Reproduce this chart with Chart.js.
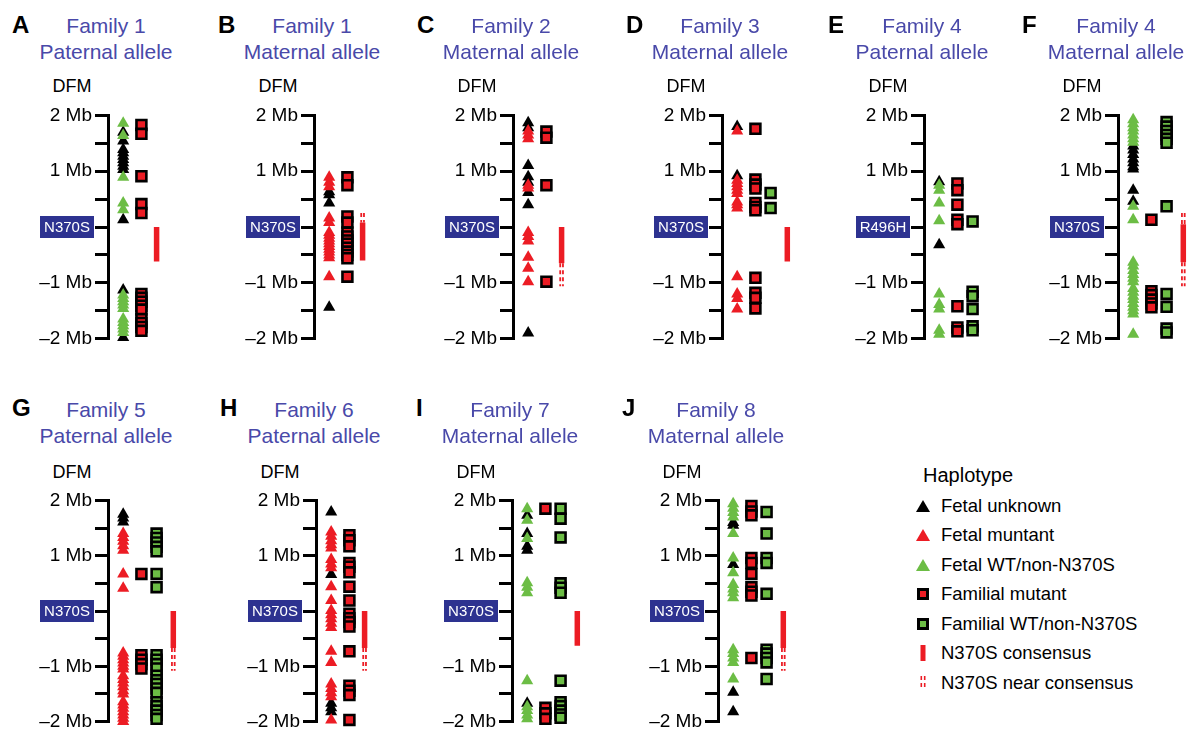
<!DOCTYPE html>
<html lang="en">
<head>
<meta charset="UTF-8">
<title>N370S haplotypes by family</title>
<script src="https://cdn.jsdelivr.net/npm/chart.js"></script>
<style>
    body {
        margin: 0;
        width: 1190px;
        height: 734px;
        overflow: hidden;
        position: relative;
        background: #fff;
        font-family: "Liberation Sans", Arial, Helvetica, sans-serif;
    }
    .letter {
        position: absolute;
        font-weight: bold;
        font-size: 24px;
        line-height: 26px;
        color: #000;
    }
    .title {
        position: absolute;
        width: 220px;
        text-align: center;
        color: #4949a9;
        font-size: 21px;
        line-height: 26px;
    }
    .dfm {
        position: absolute;
        width: 80px;
        text-align: center;
        font-size: 18px;
        line-height: 24px;
    }
    .plot { position: absolute; }
    #legend {
        position: absolute;
        left: 913px;
        top: 463px;
        font-size: 18.5px;
        color: #000;
    }
    #legend .head { font-size: 20px; line-height: 24px; margin-left: 10px; margin-bottom: 4px; }
    #legend .row { height: 29.5px; display: flex; align-items: center; }
    #legend svg { width: 20px; height: 20px; margin-right: 8px; }
</style>
</head>
<body>
<div id="legend"></div>
<script>
    // panel texts
    const panelLetters = ['A', 'B', 'C', 'D', 'E', 'F', 'G', 'H', 'I', 'J'];
    const familyNames = ['Family 1', 'Family 1', 'Family 2', 'Family 3', 'Family 4', 'Family 4', 'Family 5', 'Family 6', 'Family 7', 'Family 8'];
    const alleleNames = ['Paternal allele', 'Maternal allele', 'Maternal allele', 'Maternal allele', 'Paternal allele',
        'Maternal allele', 'Paternal allele', 'Paternal allele', 'Maternal allele', 'Maternal allele'];
    const variantNames = ['N370S', 'N370S', 'N370S', 'N370S', 'R496H', 'N370S', 'N370S', 'N370S', 'N370S', 'N370S'];

    // y axis tick labels (Mb from mutation)
    const tickValues = [2, 1, -1, -2];
    const tickTexts = ['2 Mb', '1 Mb', '\u20131 Mb', '\u20132 Mb'];

    // marker positions in Mb, one list per panel (A..J)
    const fetalUnknown = [
        [1.7, 1.54, 1.39, 1.33, 1.27, 1.21, 1.15, 1.09, 1.03, 0.13, -1.13, -1.98],
        [0.63, 0.58, 0.43, -1.44],
        [1.87, 1.78, 1.1, 0.9, 0.8, 0.62, 0.4, -1.9],
        [1.8, 0.92],
        [0.81, -0.32],
        [1.45, 1.38, 1.3, 1.22, 1.15, 1.08, 1.04, 0.66, 0.46],
        [1.75, 1.68, 1.61],
        [1.79, 0.66, -1.67, -1.75, -1.82],
        [1.73, 1.4, 1.17, 1.1, -1.67],
        [1.6, 1.55, 0.84, -1.47, -1.82]
    ];
    const fetalMutant = [
        [],
        [0.89, 0.8, 0.72, 0.16, 0.08, -0.1, -0.15, -0.2, -0.25, -0.3, -0.35, -0.4, -0.45, -0.5, -0.55, -0.89],
        [1.72, 1.65, 1.58, 0.75, 0.7, -0.1, -0.17, -0.25, -0.54, -0.74, -0.98],
        [1.72, 0.84, 0.78, 0.72, 0.66, 0.6, 0.45, 0.4, 0.34, -0.89, -1.2, -1.28, -1.47],
        [],
        [],
        [1.4, 1.33, 1.26, 1.18, 1.1, 0.67, 0.41, -0.76, -0.82, -0.88, -0.94, -1.0, -1.05,
            -1.17, -1.24, -1.3, -1.37, -1.44, -1.5, -1.64, -1.7, -1.76, -1.82, -1.88, -1.94, -2.0],
        [1.43, 1.35, 1.27, 1.2, 1.14, 0.93, 0.85, 0.78, 0.44, 0.19, 0.01, -0.07, -0.14, -0.22, -0.3,
            -0.73, -0.93, -1.32, -1.4, -1.48, -1.55, -1.97],
        [],
        []
    ];
    const fetalWT = [
        [1.86, 1.64, 0.89, 0.43, 0.31, -1.22, -1.28, -1.34, -1.4, -1.46, -1.65, -1.71, -1.77, -1.83, -1.89],
        [],
        [],
        [],
        [0.75, 0.66, 0.43, 0.11, -1.2, -1.39, -1.47, -1.85, -1.92],
        [1.92, 1.85, 1.78, 1.72, 1.65, 1.58, 1.52, 0.37, 0.13, -0.63, -0.7, -0.78, -0.85, -0.92, -0.98,
            -1.1, -1.17, -1.24, -1.3, -1.37, -1.44, -1.5, -1.56, -1.92],
        [],
        [],
        [1.85, 1.64, 1.31, 0.51, 0.43, 0.33, -1.26, -1.73, -1.8, -1.88, -1.95],
        [1.94, 1.86, 1.78, 1.7, 1.4, 0.96, 0.69, 0.48, 0.4, 0.33, 0.24, -0.7, -0.77, -0.85, -0.93, -1.23]
    ];
    const familialMutant = [
        [1.83, 1.67, 0.91, 0.41, 0.25, -1.2, -1.27, -1.34, -1.41, -1.48, -1.65, -1.72, -1.79, -1.86],
        [0.89, 0.75, 0.19, 0.08, -0.1, -0.17, -0.24, -0.3, -0.37, -0.44, -0.5, -0.56, -0.89],
        [1.71, 1.6, 0.75, -0.98],
        [1.76, 0.85, 0.76, 0.69, 0.43, 0.36, 0.3, -0.91, -1.18, -1.27, -1.46],
        [0.78, 0.66, 0.4, 0.13, 0.05, -1.42, -1.8, -1.87],
        [0.13, -1.15, -1.22, -1.3, -1.37, -1.44],
        [0.67, -0.8, -0.88, -0.96, -1.04],
        [1.37, 1.28, 1.17, 0.87, 0.8, 0.7, 0.44, 0.19, -0.05, -0.13, -0.2, -0.28, -0.73, -1.35, -1.44, -1.52, -1.97],
        [1.85, -1.75, -1.85, -1.95],
        [1.9, 1.8, 1.73, 0.96, 0.87, 0.67, 0.43, 0.35, 0.28, -0.85]
    ];
    const familialWT = [
        [],
        [],
        [],
        [0.61, 0.34],
        [0.1, -1.16, -1.24, -1.47, -1.78, -1.85],
        [1.88, 1.8, 1.72, 1.65, 1.58, 1.51, 0.37, -1.2, -1.43, -1.82, -1.89],
        [1.4, 1.32, 1.24, 1.16, 1.08, 0.67, 0.43, -0.8, -0.88, -0.96, -1.04, -1.17, -1.25, -1.32, -1.4, -1.48,
            -1.65, -1.72, -1.8, -1.88, -1.95],
        [],
        [1.85, 1.67, 1.33, 0.5, 0.42, 0.33, -1.26, -1.65, -1.72, -1.8, -1.87, -1.93],
        [1.79, 1.4, 0.96, 0.87, 0.31, -0.7, -0.77, -0.85, -0.93, -1.23]
    ];
    // consensus region [top, bottom] in Mb, and near-consensus segments
    const consensus = [
        [0, -0.62], [0.08, -0.6], [0, -0.65], [0, -0.62], null,
        [0.05, -0.63], [0, -0.67], [0, -0.67], [0, -0.63], [0, -0.67]
    ];
    const nearConsensus = [
        [], [[0.25, 0.08]], [[-0.65, -1.06]], [], [],
        [[0.25, 0.05], [-0.63, -1.06]], [[-0.67, -1.08]], [[-0.67, -1.08]], [], [[-0.67, -1.08]]
    ];

    const RED = '#ec1c24';
    const GREEN = '#6cbd45';
    const BOX = '#2d3290';
    const FONT = '"Liberation Sans", Arial, Helvetica, sans-serif';

    // layout: axis x position of each panel
    const axisX = [108, 314, 513, 722, 924, 1118, 108, 316, 512, 718];
    const COL = 17;          // px per column unit
    const PLOT_W = 90;

    const variantBox = {
        id: 'variantBox',
        afterDraw(chart) {
            const ctx = chart.ctx;
            const y = chart.scales.y.getPixelForValue(0);
            const right = chart.chartArea.left - 14;
            ctx.save();
            ctx.fillStyle = BOX;
            ctx.fillRect(right - 54, y - 11, 54, 22);
            ctx.fillStyle = '#fff';
            ctx.font = '15px ' + FONT;
            ctx.textAlign = 'center';
            ctx.textBaseline = 'middle';
            ctx.fillText(chart.options.plugins.variantBox.text, right - 27, y + 1);
            ctx.restore();
        }
    };

    function pts(list, x) {
        return list.map(v => ({ x: x, y: v }));
    }

    function addText(cls, left, top, text) {
        const d = document.createElement('div');
        d.className = cls;
        d.style.left = left + 'px';
        d.style.top = top + 'px';
        d.textContent = text;
        document.body.appendChild(d);
        return d;
    }

    panelLetters.forEach((letter, i) => {
        const ax = axisX[i];
        const row2 = i >= 6;
        const textTop = row2 ? 397 : 13;

        addText('letter', ax - 96, row2 ? 395 : 12, letter);
        const t = addText('title', ax - 112, textTop, '');
        t.innerHTML = familyNames[i] + '<br>' + alleleNames[i];
        addText('dfm', ax - 76, row2 ? 460 : 74, 'DFM');

        const plotH = row2 ? 225 : 227;
        const canvasTop = row2 ? 486 : 101;
        const wrap = document.createElement('div');
        wrap.className = 'plot';
        wrap.style.left = (ax - 100) + 'px';
        wrap.style.top = canvasTop + 'px';
        const cv = document.createElement('canvas');
        cv.width = 100 + PLOT_W;
        cv.height = plotH + 12 + 13;
        wrap.appendChild(cv);
        document.body.appendChild(wrap);

        const hasWT = familialWT[i].length > 0;
        const barX = hasWT ? 4.3 : 3.2;
        const tri = { pointStyle: 'triangle', pointRadius: 7, borderWidth: 0, showLine: false, clip: false };
        const sq = { pointStyle: 'rect', pointRadius: 7, borderWidth: 2.6, borderColor: '#000', showLine: false, clip: false };

        const datasets = [
            Object.assign({ label: 'Familial mutant', data: pts(familialMutant[i], 2.2), backgroundColor: RED, order: 1 }, sq),
            Object.assign({ label: 'Familial WT', data: pts(familialWT[i], 3.2), backgroundColor: GREEN, order: 1 }, sq),
            Object.assign({ label: 'Fetal WT', data: pts(fetalWT[i], 1), backgroundColor: GREEN, order: 2 }, tri),
            Object.assign({ label: 'Fetal mutant', data: pts(fetalMutant[i], 1), backgroundColor: RED, order: 3 }, tri),
            Object.assign({ label: 'Fetal unknown', data: pts(fetalUnknown[i], 1), backgroundColor: '#000', order: 4 }, tri)
        ];
        if (consensus[i]) {
            datasets.push({
                label: 'consensus', data: pts(consensus[i], barX), showLine: true, borderColor: RED,
                borderWidth: 5.5, borderCapStyle: 'butt', pointRadius: 0, order: 5, clip: false
            });
        }
        nearConsensus[i].forEach(seg => {
            [-0.09, 0.09].forEach(dx => {
                datasets.push({
                    label: 'near consensus', data: pts(seg, barX + dx), showLine: true, borderColor: RED,
                    borderWidth: 1.8, borderDash: [4, 3], borderCapStyle: 'butt', pointRadius: 0, order: 5, clip: false
                });
            });
        });

        new Chart(cv, {
            type: 'scatter',
            data: { datasets: datasets },
            options: {
                responsive: false,
                animation: false,
                events: [],
                layout: { padding: { top: 12, bottom: 13, left: 0, right: 0 } },
                plugins: {
                    legend: { display: false },
                    tooltip: { enabled: false },
                    variantBox: { text: variantNames[i] }
                },
                scales: {
                    x: { type: 'linear', min: 0, max: PLOT_W / COL, display: false },
                    y: {
                        type: 'linear',
                        min: -2,
                        max: 2,
                        afterFit: s => { s.width = 100; },
                        ticks: {
                            stepSize: 0.5,
                            autoSkip: false,
                            padding: 3,
                            color: '#000',
                            font: { size: 19, family: FONT },
                            callback: v => {
                                const k = tickValues.indexOf(v);
                                return k >= 0 ? tickTexts[k] : '';
                            }
                        },
                        grid: { drawOnChartArea: false, color: '#000', lineWidth: 3, tickLength: 13 },
                        border: { color: '#000', width: 3 }
                    }
                }
            },
            plugins: [variantBox]
        });
    });

    // legend
    const legendLabels = ['Fetal unknown', 'Fetal muntant', 'Fetal WT/non-N370S', 'Familial mutant',
        'Familial WT/non-N370S', 'N370S consensus', 'N370S near consensus'];
    const legendIcons = [
        '<polygon points="3,16 10,4 17,16" fill="#000"/>',
        '<polygon points="3,16 10,4 17,16" fill="' + RED + '"/>',
        '<polygon points="3,16 10,4 17,16" fill="' + GREEN + '"/>',
        '<rect x="4" y="4" width="12" height="12" fill="#000"/><rect x="7" y="7" width="6" height="6" fill="' + RED + '"/>',
        '<rect x="4" y="4" width="12" height="12" fill="#000"/><rect x="7" y="7" width="6" height="6" fill="' + GREEN + '"/>',
        '<rect x="7.5" y="2" width="5" height="16" fill="' + RED + '"/>',
        '<g fill="' + RED + '"><rect x="7.5" y="3" width="1.6" height="4"/><rect x="10.9" y="3" width="1.6" height="4"/>' +
            '<rect x="7.5" y="10" width="1.6" height="4"/><rect x="10.9" y="10" width="1.6" height="4"/></g>'
    ];
    const legend = document.getElementById('legend');
    let html = '<div class="head">Haplotype</div>';
    legendLabels.forEach((lab, k) => {
        html += '<div class="row"><svg viewBox="0 0 20 20">' + legendIcons[k] + '</svg><span>' + lab + '</span></div>';
    });
    legend.innerHTML = html;
</script>
</body>
</html>
